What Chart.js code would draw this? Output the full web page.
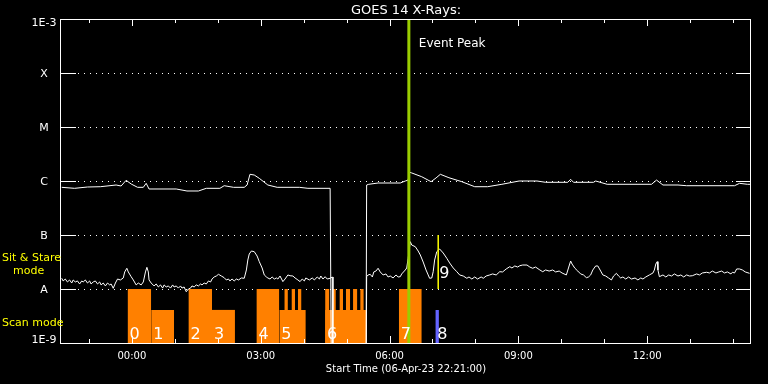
<!DOCTYPE html>
<html>
<head>
<meta charset="utf-8">
<script src="https://cdn.jsdelivr.net/npm/chart.js@4.4.1/dist/chart.umd.min.js"></script>
<style>
  html, body { margin: 0; padding: 0; background: #000; }
  #wrap { width: 768px; height: 384px; }
</style>
</head>
<body>
<div id="wrap"><canvas id="xrayChart"></canvas></div>
<script>
// --- DATA (time = minutes from 00:00, 07-Apr-23) ---
const chartTitle = "GOES 14 X-Rays:";
const startLabel = "Start Time (06-Apr-23 22:21:00)";
const timeMin = -99;
const timeMax = 865;

// flux levels on the log axis
const levelValues = [1e-9, 1e-8, 1e-7, 1e-6, 1e-5, 1e-4, 1e-3];
const levelLabels = ["1E-9", "A", "B", "C", "M", "X", "1E-3"];

// time ticks
const hourTicks = [-60, 0, 60, 120, 180, 240, 300, 360, 420, 480, 540, 600, 660, 720, 780, 840];
const majorTicks = [0, 180, 360, 540, 720];
const majorLabels = ["00:00", "03:00", "06:00", "09:00", "12:00"];

// 1-8 A channel, flux in 1e-7 W/m2 (0.001 = dropout)
const longTimes = [-98, -80, -62, -44, -22, -15, -8, -1, 8, 16,
  20, 24, 62, 77, 93, 104, 123, 129, 142, 157,
  161, 165, 171, 178, 190, 203, 234, 246, 277, 279,
  327, 328, 331, 344, 375, 382, 386, 388, 391, 405,
  418, 425, 431, 443, 461, 479, 497, 517, 541, 566,
  578, 609, 613, 617, 645, 648, 664, 726, 733, 742,
  763, 775, 842, 849, 860, 864];
const longFlux = [7.64, 7.32, 7.74, 7.84, 8.43, 8.08, 10.3, 8.80, 7.64, 7.64,
  9.06, 7.11, 7.11, 6.53, 6.53, 7.32, 7.32, 8.18, 7.64, 7.64,
  8.43, 13.3, 12.9, 11.2, 8.43, 7.64, 7.64, 7.32, 7.32, 0.001,
  0.001, 8.43, 8.69, 9.18, 9.18, 10.0, 10.4, 14.5, 14.1, 12.0,
  9.71, 11.4, 13.3, 11.5, 9.71, 7.84, 7.84, 8.69, 10.0, 10.0,
  9.46, 9.46, 10.75, 9.46, 9.46, 10.0, 8.69, 8.69, 10.4, 8.43,
  8.43, 8.18, 8.18, 9.06, 8.69, 8.69];

// 0.5-4 A channel, flux in 1e-8 W/m2 (0.001 = dropout)
const shortTimes = [-98, -96, -93, -90, -87, -84, -82, -79, -76, -73,
  -70, -68, -65, -62, -59, -57, -54, -51, -48, -45,
  -43, -40, -37, -34, -31, -29, -26, -23, -20, -16,
  -12, -10, -7, -5, -1, 2, 6, 9, 13, 16,
  19, 21, 23, 24, 27, 31, 34, 37, 40, 43,
  45, 48, 51, 54, 57, 59, 62, 65, 68, 70,
  73, 76, 79, 82, 84, 87, 90, 93, 96, 98,
  101, 104, 107, 110, 112, 115, 118, 121, 125, 129,
  132, 135, 137, 140, 143, 146, 149, 153, 157, 160,
  162, 164, 167, 171, 175, 178, 182, 185, 188, 190,
  193, 196, 199, 202, 204, 207, 211, 214, 218, 221,
  225, 228, 232, 235, 238, 241, 243, 248, 252, 255,
  259, 262, 264, 267, 270, 273, 277, 280, 281, 327,
  328, 330, 333, 336, 338, 341, 344, 347, 351, 355,
  358, 361, 365, 369, 372, 375, 377, 382, 384, 386,
  389, 391, 396, 400, 403, 407, 411, 414, 416, 419,
  421, 423, 426, 430, 435, 440, 444, 449, 454, 458,
  463, 468, 471, 475, 479, 483, 488, 491, 495, 500,
  504, 509, 514, 518, 523, 528, 531, 535, 539, 542,
  546, 552, 556, 560, 564, 570, 574, 578, 583, 588,
  592, 597, 601, 607, 610, 613, 615, 619, 623, 627,
  631, 635, 638, 641, 644, 648, 651, 655, 658, 662,
  666, 670, 673, 677, 680, 683, 686, 690, 694, 698,
  703, 707, 711, 714, 718, 723, 728, 730, 732, 734,
  735, 737, 742, 746, 750, 754, 758, 763, 767, 771,
  775, 779, 783, 789, 793, 797, 803, 807, 811, 816,
  820, 824, 828, 832, 837, 839, 842, 845, 849, 853,
  857, 863];
const shortFlux = [1.58, 1.41, 1.53, 1.35, 1.47, 1.29, 1.47, 1.35, 1.41, 1.24,
  1.41, 1.35, 1.47, 1.29, 1.41, 1.24, 1.35, 1.41, 1.24, 1.35,
  1.19, 1.29, 1.14, 1.29, 1.19, 1.24, 1.03, 1.29, 1.53, 1.47,
  1.60, 2.07, 2.42, 2.07, 1.69, 1.47, 1.19, 1.29, 1.19, 1.35,
  2.07, 2.52, 2.07, 1.47, 1.29, 1.14, 1.24, 1.09, 1.19, 1.04,
  1.19, 1.09, 1.14, 1.04, 1.19, 1.09, 1.14, 1.04, 1.14, 1.04,
  1.09, 0.89, 1.00, 1.04, 1.14, 1.09, 1.19, 1.14, 1.24, 1.19,
  1.29, 1.24, 1.41, 1.35, 1.53, 1.67, 1.74, 1.87, 1.74, 1.62,
  1.47, 1.53, 1.41, 1.53, 1.41, 1.53, 1.47, 1.60, 1.58, 2.25,
  3.44, 4.45, 5.05, 4.91, 4.08, 3.21, 2.45, 1.82, 1.67, 1.60,
  1.53, 1.67, 1.53, 1.60, 1.53, 1.74, 1.37, 1.53, 1.82, 1.76,
  1.74, 1.60, 1.47, 1.37, 1.53, 1.41, 1.60, 1.47, 1.60, 1.47,
  1.67, 1.53, 1.74, 1.53, 1.69, 1.53, 1.58, 1.67, 0.001, 0.001,
  1.69, 1.82, 1.87, 1.67, 2.07, 2.15, 2.42, 2.07, 1.82, 1.90,
  1.67, 1.74, 1.60, 1.82, 1.67, 1.69, 1.90, 2.25, 2.45, 3.70,
  7.52, 6.52, 6.07, 5.05, 4.26, 3.16, 2.25, 1.82, 1.58, 1.60,
  2.09, 3.44, 4.91, 5.50, 4.64, 3.70, 3.03, 2.45, 2.09, 1.82,
  1.74, 1.58, 1.67, 1.53, 1.67, 1.53, 1.67, 1.58, 1.74, 1.82,
  1.90, 1.82, 2.09, 2.07, 2.35, 2.59, 2.45, 2.67, 2.55, 2.70,
  2.78, 2.78, 2.55, 2.42, 2.55, 2.25, 2.09, 2.25, 2.15, 2.25,
  2.07, 2.15, 1.98, 1.82, 2.45, 3.30, 2.90, 2.42, 2.15, 1.90,
  1.82, 1.62, 1.67, 1.82, 2.25, 2.67, 2.67, 2.15, 1.82, 1.74,
  1.60, 1.47, 1.74, 1.95, 1.74, 1.60, 1.67, 1.53, 1.67, 1.53,
  1.60, 1.47, 1.60, 1.53, 1.67, 1.82, 1.98, 2.25, 2.90, 3.21,
  2.25, 1.69, 1.82, 1.67, 1.82, 1.74, 1.90, 1.74, 1.82, 1.67,
  1.82, 1.74, 1.76, 1.90, 1.82, 1.98, 2.04, 1.98, 2.15, 1.98,
  2.07, 2.15, 1.98, 2.07, 1.90, 2.04, 1.98, 2.35, 2.35, 2.25,
  2.07, 1.95];

// observations (numbered blocks)
const obsLabels = ["0", "1", "2", "3", "4", "5", "6", "7", "8"];
const obsStart = [-6, 27, 79, 112, 174, 206, 270, 373, 424];
const obsEnd = [27, 59, 112, 144, 206, 243, 328, 405, 429];
const obsTop = [1e-8, 4.1e-9, 1e-8, 4.1e-9, 1e-8, 4.1e-9, 4.1e-9, 1e-8, 4.1e-9];
const obsMode = ["scan", "scan", "scan", "scan", "scan", "scan", "scan", "scan", "other"];

// short full-height scans inside blocks 5 and 6
const spikeStart = [213, 223, 232, 270, 280, 290, 299, 309, 319];
const spikeEnd = [218, 228, 237, 276, 285, 295, 305, 315, 324];
const spikeTop = 1e-8;

// event peak and marker 9
const eventPeakTime = 387;
const marker9Time = 428;
const marker9Range = [1e-7, 1e-8];

// --- COLOURS ---
const ORANGE = "#ff8000";
const BLUE = "#6464ff";
const GREEN = "#9acd00";
const YELLOW = "#ffff00";
const FONT = "'DejaVu Sans', sans-serif";

// --- DATASETS ---
const toXY = (ts, vs, unit) => ts.map((t, i) => ({ x: t, y: vs[i] * unit }));

const datasets = [
    { data: toXY(longTimes, longFlux, 1e-7), borderColor: "#fff", borderWidth: 1, order: 2 },
    { data: toXY(shortTimes, shortFlux, 1e-8), borderColor: "#fff", borderWidth: 1, order: 2 },
    { data: [{ x: eventPeakTime, y: 1e-3 }, { x: eventPeakTime, y: 1e-9 }], borderColor: GREEN, borderWidth: 3, order: 0 },
    { data: [{ x: marker9Time, y: marker9Range[0] }, { x: marker9Time, y: marker9Range[1] }], borderColor: YELLOW, borderWidth: 1.5, order: 0 }
];

const block = (s, e, top, color) => ({
    data: [{ x: s, y: top }, { x: e, y: top }],
    borderColor: "rgba(0,0,0,0)",
    borderWidth: 0,
    backgroundColor: color,
    fill: "start",
    order: 5
});

obsStart.forEach((s, i) => datasets.push(block(s, obsEnd[i], obsTop[i], obsMode[i] === "scan" ? ORANGE : BLUE)));
spikeStart.forEach((s, i) => datasets.push(block(s, spikeEnd[i], spikeTop, ORANGE)));

// --- DECOR: frame, ticks, grid, texts ---
const decor = {
    id: "decor",
    beforeDatasetsDraw(chart) {
        const { ctx, chartArea: a, scales: { y } } = chart;
        ctx.save();
        ctx.strokeStyle = "#fff";
        ctx.lineWidth = 1;
        // dotted level lines with solid ends
        levelValues.slice(1, -1).forEach(v => {
            const py = Math.round(y.getPixelForValue(v)) + 0.5;
            ctx.setLineDash([]);
            ctx.beginPath();
            ctx.moveTo(a.left, py); ctx.lineTo(a.left + 15, py);
            ctx.moveTo(a.right - 15, py); ctx.lineTo(a.right, py);
            ctx.stroke();
            ctx.setLineDash([1, 5]);
            ctx.beginPath();
            ctx.moveTo(a.left + 17, py); ctx.lineTo(a.right - 17, py);
            ctx.stroke();
        });
        ctx.restore();
    },
    afterDatasetsDraw(chart) {
        const { ctx, chartArea: a, scales: { x, y } } = chart;
        ctx.save();
        ctx.strokeStyle = "#fff";
        ctx.lineWidth = 1;
        ctx.setLineDash([]);
        ctx.strokeRect(a.left - 0.5, a.top + 0.5, a.right - a.left, a.bottom - a.top);

        // time ticks, top and bottom
        ctx.beginPath();
        hourTicks.forEach(t => {
            const px = Math.round(x.getPixelForValue(t)) + 0.5;
            const len = majorTicks.includes(t) ? 7 : 4;
            ctx.moveTo(px, a.top); ctx.lineTo(px, a.top + len);
            ctx.moveTo(px, a.bottom); ctx.lineTo(px, a.bottom - len);
        });
        ctx.stroke();

        // texts
        ctx.fillStyle = "#fff";
        ctx.textAlign = "center";
        ctx.textBaseline = "alphabetic";
        ctx.font = "13px " + FONT;
        ctx.fillText(chartTitle, (a.left + a.right) / 2, 14);

        ctx.font = "10px " + FONT;
        majorTicks.forEach((t, i) => ctx.fillText(majorLabels[i], x.getPixelForValue(t), 359));
        ctx.fillText(startLabel, (a.left + a.right) / 2, 372);

        ctx.font = "11px " + FONT;
        ctx.textBaseline = "middle";
        levelValues.forEach((v, i) => {
            const py = Math.min(Math.max(y.getPixelForValue(v) + 1, a.top + 4), a.bottom - 3);
            ctx.fillText(levelLabels[i], a.left - 17, py);
        });

        ctx.fillStyle = YELLOW;
        ctx.textAlign = "left";
        ctx.fillText("Sit & Stare", 2, 258);
        ctx.fillText("mode", 13, 271);
        ctx.fillText("Scan mode", 2, 323);

        // block numbers
        ctx.fillStyle = "#fff";
        ctx.textBaseline = "alphabetic";
        ctx.font = "16px " + FONT;
        obsStart.forEach((s, i) => ctx.fillText(obsLabels[i], x.getPixelForValue(s) + 2, 339));
        ctx.fillText("9", x.getPixelForValue(marker9Time) + 1, 278);

        ctx.font = "12px " + FONT;
        ctx.fillText("Event Peak", x.getPixelForValue(eventPeakTime) + 10, 47);
        ctx.restore();
    }
};

new Chart(document.getElementById("xrayChart"), {
    type: "line",
    data: { datasets },
    options: {
        responsive: true,
        maintainAspectRatio: false,
        animation: false,
        layout: { padding: { left: 61, right: 17, top: 19, bottom: 41 } },
        elements: { point: { radius: 0 }, line: { tension: 0 } },
        scales: {
            x: { type: "linear", min: timeMin, max: timeMax, display: false },
            y: { type: "logarithmic", min: 1e-9, max: 1e-3, display: false }
        },
        plugins: {
            legend: { display: false },
            tooltip: { enabled: false },
            title: { display: false }
        }
    },
    plugins: [decor]
});
</script>
</body>
</html>
